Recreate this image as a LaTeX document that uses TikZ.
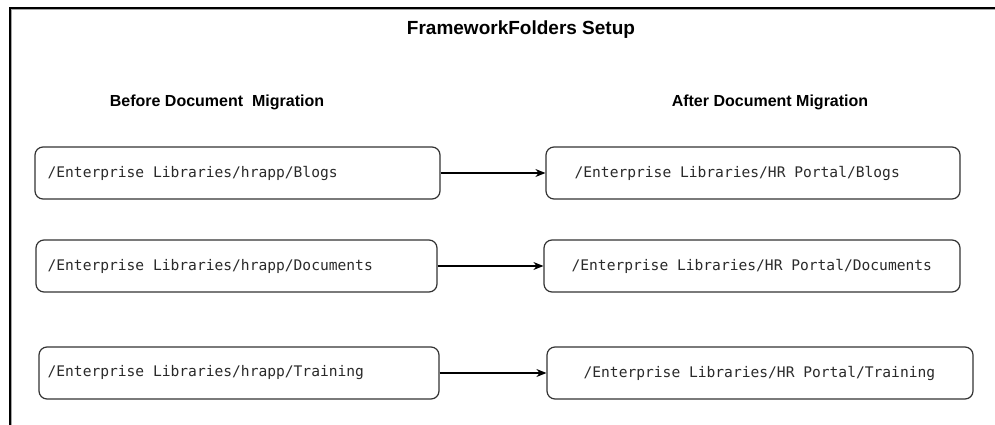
\documentclass[tikz,border=0pt]{standalone}
\usepackage{fontspec}
\setmainfont{Liberation Sans}
\newfontfamily\monof{DejaVu Sans Mono}
\usetikzlibrary{arrows.meta}
\definecolor{boxline}{HTML}{333333}
\definecolor{txtcol}{HTML}{2A2A2A}
\tikzset{
  pathbox/.style={draw=boxline, line width=1.2pt, rounded corners=8pt, fill=white, inner sep=0pt},
  pathtext/.style={anchor=west, inner sep=0pt, text=txtcol, font=\monof\fontsize{14.6pt}{16pt}\selectfont},
  headtext/.style={font=\bfseries\fontsize{16pt}{18pt}\selectfont, text=black, inner sep=0pt},
  conn/.style={draw=black, line width=1.2pt, -{Stealth[length=10pt,width=8pt]}}
}
\begin{document}
\begin{tikzpicture}[x=1pt,y=-1pt]
\useasboundingbox (0,0) rectangle (995,425);
\fill[white] (0,0) rectangle (995,425);
% frame
\draw[gray!70, line width=1pt] (995,9.6) -- (11.6,9.6) -- (11.6,425);
\draw[black, line width=1.6pt] (995,8) -- (10,8) -- (10,425);
% headings
\node[headtext, font=\bfseries\fontsize{19pt}{21pt}\selectfont] (title) at (521,30) {FrameworkFolders Setup};
\node[headtext] (before) at (217,102) {Before Document\ \ Migration};
\node[headtext] (after) at (770,102) {After Document Migration};
% boxes
\node[pathbox, minimum width=405pt, minimum height=52pt] (l1) at (237.5,173) {};
\node[pathbox, minimum width=401pt, minimum height=52pt] (l2) at (236.5,266) {};
\node[pathbox, minimum width=400pt, minimum height=52pt] (l3) at (239,373) {};
\node[pathbox, minimum width=414pt, minimum height=52pt] (r1) at (753,173) {};
\node[pathbox, minimum width=416pt, minimum height=52pt] (r2) at (752,266) {};
\node[pathbox, minimum width=426pt, minimum height=52pt] (r3) at (760,373) {};
% texts
\node[pathtext] (l1t) at ([xshift=13pt]l1.west) {/Enterprise Libraries/hrapp/Blogs};
\node[pathtext] (l2t) at ([xshift=12pt]l2.west) {/Enterprise Libraries/hrapp/Documents};
\node[pathtext] (l3t) at ([xshift=9pt]l3.west) {/Enterprise Libraries/hrapp/Training};
\node[pathtext] (r1t) at ([xshift=29pt]r1.west) {/Enterprise Libraries/HR Portal/Blogs};
\node[pathtext] (r2t) at ([xshift=28pt]r2.west) {/Enterprise Libraries/HR Portal/Documents};
\node[pathtext] (r3t) at ([xshift=37pt]r3.west) {/Enterprise Libraries/HR Portal/Training};
% connectors
\draw[conn] (l1.east) -- (r1.west);
\draw[conn] (l2.east) -- (r2.west);
\draw[conn] (l3.east) -- (r3.west);
\end{tikzpicture}
\end{document}
